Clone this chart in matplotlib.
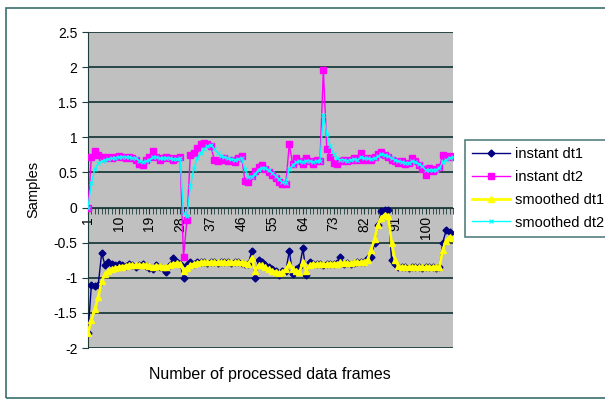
import numpy as np
import matplotlib
matplotlib.use("Agg")
import matplotlib.pyplot as plt
from matplotlib.lines import Line2D
from matplotlib.patches import Rectangle
from matplotlib.ticker import MultipleLocator, FixedLocator

plt.rcParams['font.family'] = ['Liberation Sans', 'DejaVu Sans']

# frame numbers 1..108
frames = np.arange(1, 109)
x_ticks = [1, 10, 19, 28, 37, 46, 55, 64, 73, 82, 91, 100]
y_ticks = [-2, -1.5, -1, -0.5, 0, 0.5, 1, 1.5, 2, 2.5]

instant_dt1 = [
    -1.78, -1.10, -1.12, -1.10, -0.65, -0.82, -0.78, -0.80, -0.82, -0.80,
    -0.82, -0.83, -0.81, -0.82, -0.84, -0.82, -0.81, -0.83, -0.86, -0.88,
    -0.82, -0.84, -0.86, -0.92, -0.82, -0.72, -0.78, -0.80, -1.00, -0.82,
    -0.78, -0.80, -0.78, -0.77, -0.78, -0.79, -0.77, -0.78, -0.79, -0.78,
    -0.77, -0.78, -0.79, -0.78, -0.78, -0.79, -0.80, -0.80, -0.62, -1.00,
    -0.74, -0.78, -0.82, -0.85, -0.88, -0.90, -0.96, -0.90, -0.90, -0.62,
    -0.94, -0.88, -0.85, -0.58, -0.96, -0.78, -0.80, -0.81, -0.80, -0.82,
    -0.81, -0.80, -0.80, -0.79, -0.71, -0.80, -0.79, -0.80, -0.79, -0.78,
    -0.78, -0.77, -0.72, -0.70, -0.50, -0.25, -0.05, -0.03, -0.04, -0.75,
    -0.80, -0.85, -0.85, -0.84, -0.86, -0.85, -0.84, -0.85, -0.86, -0.85,
    -0.84, -0.85, -0.86, -0.85, -0.50, -0.32, -0.35, -0.42,
]

instant_dt2 = [
    0.00, 0.72, 0.80, 0.75, 0.72, 0.70, 0.72, 0.70, 0.72, 0.74,
    0.72, 0.70, 0.72, 0.70, 0.68, 0.62, 0.60, 0.68, 0.72, 0.80,
    0.72, 0.68, 0.70, 0.72, 0.70, 0.68, 0.70, 0.72, -0.70, -0.18,
    0.75, 0.78, 0.85, 0.90, 0.92, 0.90, 0.88, 0.68, 0.66, 0.68,
    0.70, 0.66, 0.68, 0.65, 0.70, 0.74, 0.38, 0.36, 0.45, 0.52,
    0.58, 0.60, 0.55, 0.50, 0.46, 0.42, 0.36, 0.33, 0.34, 0.90,
    0.62, 0.70, 0.66, 0.62, 0.70, 0.66, 0.62, 0.68, 0.66, 1.96,
    0.84, 0.72, 0.63, 0.62, 0.66, 0.68, 0.66, 0.68, 0.70, 0.68,
    0.77, 0.68, 0.70, 0.68, 0.72, 0.76, 0.79, 0.75, 0.72, 0.68,
    0.66, 0.64, 0.66, 0.62, 0.64, 0.70, 0.66, 0.60, 0.55, 0.46,
    0.56, 0.52, 0.55, 0.58, 0.75, 0.72, 0.74, 0.72,
]

smoothed_dt1 = [
    -1.78, -1.60, -1.45, -1.28, -1.05, -0.95, -0.90, -0.88, -0.86, -0.85,
    -0.84, -0.83, -0.82, -0.82, -0.82, -0.82, -0.82, -0.82, -0.83, -0.84,
    -0.83, -0.83, -0.84, -0.85, -0.82, -0.80, -0.79, -0.80, -0.90, -0.86,
    -0.82, -0.80, -0.79, -0.78, -0.78, -0.78, -0.78, -0.78, -0.78, -0.78,
    -0.78, -0.78, -0.78, -0.78, -0.78, -0.78, -0.79, -0.80, -0.72, -0.90,
    -0.82, -0.82, -0.85, -0.88, -0.90, -0.92, -0.93, -0.92, -0.88, -0.80,
    -0.88, -0.90, -0.92, -0.78, -0.90, -0.82, -0.80, -0.81, -0.81, -0.81,
    -0.81, -0.80, -0.80, -0.80, -0.78, -0.79, -0.79, -0.79, -0.78, -0.78,
    -0.78, -0.77, -0.74, -0.60, -0.45, -0.25, -0.15, -0.10, -0.12, -0.50,
    -0.75, -0.83, -0.85, -0.85, -0.85, -0.85, -0.85, -0.85, -0.85, -0.85,
    -0.85, -0.85, -0.85, -0.85, -0.60, -0.47, -0.42, -0.43,
]

smoothed_dt2 = [
    0.00, 0.35, 0.55, 0.63, 0.66, 0.68, 0.69, 0.70, 0.71, 0.72,
    0.72, 0.72, 0.72, 0.71, 0.70, 0.67, 0.65, 0.66, 0.68, 0.72,
    0.72, 0.70, 0.70, 0.71, 0.70, 0.69, 0.69, 0.70, -0.08, -0.12,
    0.30, 0.55, 0.70, 0.78, 0.84, 0.87, 0.89, 0.84, 0.78, 0.74,
    0.72, 0.70, 0.69, 0.68, 0.69, 0.70, 0.55, 0.43, 0.44, 0.48,
    0.54, 0.57, 0.56, 0.53, 0.49, 0.45, 0.40, 0.36, 0.35, 0.55,
    0.60, 0.65, 0.66, 0.65, 0.67, 0.66, 0.65, 0.66, 0.66, 1.32,
    1.05, 0.88, 0.76, 0.70, 0.68, 0.68, 0.67, 0.68, 0.69, 0.68,
    0.72, 0.70, 0.70, 0.69, 0.70, 0.73, 0.76, 0.75, 0.73, 0.70,
    0.68, 0.66, 0.65, 0.64, 0.63, 0.66, 0.65, 0.62, 0.59, 0.53,
    0.54, 0.53, 0.54, 0.56, 0.65, 0.68, 0.71, 0.72,
]

fig = plt.figure(figsize=(6.05, 4.01), dpi=100)
fig.patch.set_facecolor('white')

# outer chart border (right side runs off the picture, as in the scan)
fig.patches.append(Rectangle((6 / 605, 3 / 401), 1.05, 1 - 11 / 401,
                             transform=fig.transFigure, fill=False,
                             edgecolor='#3a6e6e', linewidth=1.2))

ax = fig.add_axes([88 / 605, 1 - 348 / 401, 365 / 605, 316 / 401])
ax.set_facecolor('#c0c0c0')

ax.plot(frames, instant_dt1, color='#000080', lw=1, marker='D', ms=3.5,
        label='instant dt1', zorder=3)
ax.plot(frames, instant_dt2, color='#ff00ff', lw=1, marker='s', ms=4.5,
        label='instant dt2', zorder=3)
ax.plot(frames, smoothed_dt1, color='#ffff00', lw=2, marker='^', ms=4.5,
        label='smoothed dt1', zorder=4)
ax.plot(frames, smoothed_dt2, color='#00ffff', lw=1, marker='x', ms=3,
        mew=0.8, label='smoothed dt2', zorder=4)

ax.set_xlim(1, 108)
ax.set_ylim(-2, 2.5)
ax.yaxis.set_major_locator(FixedLocator(y_ticks))
ax.set_yticklabels([f'{v:g}' for v in y_ticks])
ax.yaxis.grid(True, color='#1e3c3c', lw=1.3)
ax.set_axisbelow(True)

ax.spines['top'].set_visible(False)
ax.spines['right'].set_visible(False)
ax.spines['left'].set_color('#1e3c3c')
ax.spines['bottom'].set_position(('data', 0))
ax.spines['bottom'].set_color('#1e3c3c')

ax.xaxis.set_major_locator(FixedLocator(x_ticks))
ax.xaxis.set_minor_locator(MultipleLocator(1))
ax.set_xticklabels([str(t) for t in x_ticks], rotation=90)
ax.tick_params(axis='x', which='both', direction='out', length=4,
               color='#1e3c3c', labelsize=10, pad=2)
ax.tick_params(axis='y', direction='out', length=4, color='#1e3c3c',
               labelsize=10)

fig.text(33 / 605, 1 - 189 / 401, 'Samples', rotation=90, ha='center',
         va='center', fontsize=10.5)
fig.text(270 / 605, 1 - 375 / 401, 'Number of processed data frames',
         ha='center', va='center', fontsize=11.5)

handles = [
    Line2D([], [], color='#000080', lw=1, marker='D', ms=3.5),
    Line2D([], [], color='#ff00ff', lw=1, marker='s', ms=4.5),
    Line2D([], [], color='#ffff00', lw=2, marker='^', ms=4.5),
    Line2D([], [], color='#00ffff', lw=1, marker='x', ms=3, mew=0.8),
]
labels = ['instant dt1', 'instant dt2', 'smoothed dt1', 'smoothed dt2']
leg = fig.legend(handles, labels, loc='upper left',
                 bbox_to_anchor=(465 / 605, 1 - 140 / 401),
                 bbox_transform=fig.transFigure, fontsize=10.5,
                 frameon=True, fancybox=False, numpoints=1,
                 handlelength=2.6, handletextpad=0.3, labelspacing=0.6,
                 borderpad=0.5, borderaxespad=0)
leg.get_frame().set_edgecolor('#2a6060')
leg.get_frame().set_linewidth(1.2)

fig.savefig('out.png', dpi=100)
